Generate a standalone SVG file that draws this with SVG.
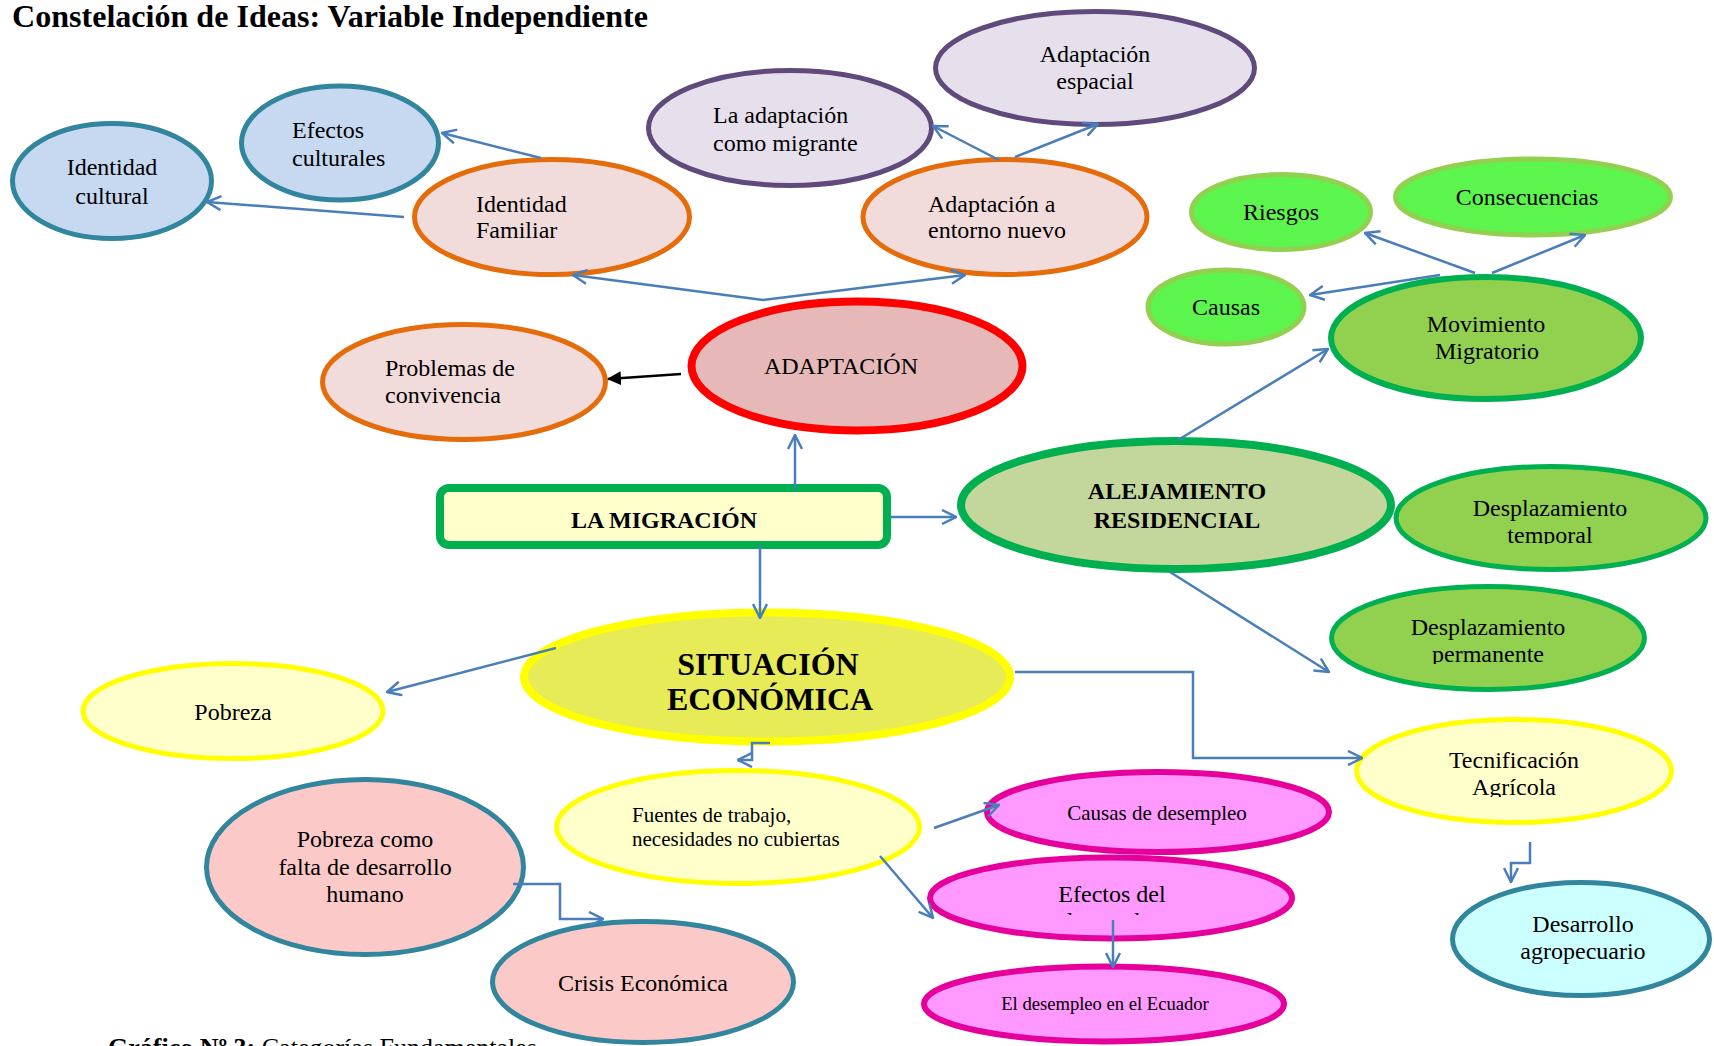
<svg xmlns="http://www.w3.org/2000/svg" width="1714" height="1046" viewBox="0 0 1714 1046">
<style>
text{font-family:"Liberation Serif","Times New Roman",serif;fill:#000}
.t{font-size:24px}
.c{text-anchor:middle}
.b{font-weight:bold}
.conn{fill:none;stroke:#4a7ebb;stroke-width:2.5}
.teal{fill:#c6d9f1;stroke:#31859c;stroke-width:5}
.orng{fill:#f2dcdb;stroke:#e46c0a;stroke-width:5}
.purp{fill:#e5e0ec;stroke:#604a7b;stroke-width:5}
.lgrn{fill:#5cf54e;stroke:#92d050;stroke-width:5}
.mgrn{fill:#92d050;stroke:#00b050;stroke-width:5}
.ylw{fill:#ffffcc;stroke:#ffff00;stroke-width:5}
.pink{fill:#fcc9c9;stroke:#31859c;stroke-width:5}
.mag{fill:#ff99ff;stroke:#e6009b;stroke-width:6}
</style>
<defs>
<marker id="oa" viewBox="0 0 16 16" refX="15" refY="8" markerWidth="16" markerHeight="16" markerUnits="userSpaceOnUse" orient="auto">
<path d="M1,1 L15,8 L1,15" fill="none" stroke="#4a7ebb" stroke-width="2.5"/>
</marker>
<marker id="ba" viewBox="0 0 14 14" refX="13" refY="7" markerWidth="14" markerHeight="14" markerUnits="userSpaceOnUse" orient="auto">
<path d="M0,0 L14,7 L0,14 Z" fill="#000"/>
</marker>
<clipPath id="clipSit"><rect x="500" y="600" width="540" height="111"/></clipPath>
<clipPath id="clipTemp"><rect x="1390" y="460" width="320" height="84"/></clipPath>
<clipPath id="clipPerm"><rect x="1330" y="580" width="320" height="84"/></clipPath>
<clipPath id="clipTec"><rect x="1350" y="715" width="330" height="82"/></clipPath>
<clipPath id="clipEfe"><rect x="920" y="850" width="380" height="65"/></clipPath>
</defs>

<text x="12" y="27" class="b" font-size="31" textLength="636" lengthAdjust="spacingAndGlyphs">Constelación de Ideas: Variable Independiente</text>

<g id="identidad-cultural">
<ellipse cx="112" cy="181" rx="99.5" ry="57.5" class="teal"/>
<text x="112" y="175" class="t c">Identidad</text>
<text x="112" y="204" class="t c">cultural</text>
</g>
<g id="efectos-culturales">
<ellipse cx="340" cy="143" rx="98.5" ry="57" class="teal"/>
<text x="292" y="138" class="t">Efectos</text>
<text x="292" y="166" class="t">culturales</text>
</g>
<g id="identidad-familiar">
<ellipse cx="552" cy="217" rx="137.5" ry="57.5" class="orng"/>
<text x="476" y="212" class="t">Identidad</text>
<text x="476" y="238" class="t">Familiar</text>
</g>
<g id="adaptacion-migrante">
<ellipse cx="790" cy="128" rx="141.5" ry="57.5" class="purp"/>
<text x="713" y="123" class="t">La adaptación</text>
<text x="713" y="151" class="t">como migrante</text>
</g>
<g id="adaptacion-espacial">
<ellipse cx="1095" cy="68" rx="159.5" ry="56.5" class="purp"/>
<text x="1095" y="62" class="t c">Adaptación</text>
<text x="1095" y="89" class="t c">espacial</text>
</g>
<g id="adaptacion-entorno">
<ellipse cx="1005" cy="217" rx="142" ry="57.5" class="orng"/>
<text x="928" y="212" class="t">Adaptación a</text>
<text x="928" y="238" class="t">entorno nuevo</text>
</g>
<g id="problemas-convivencia">
<ellipse cx="464" cy="382" rx="141.5" ry="57.5" class="orng"/>
<text x="385" y="376" class="t">Problemas de</text>
<text x="385" y="403" class="t">convivencia</text>
</g>
<g id="adaptacion">
<ellipse cx="857" cy="366" rx="165.5" ry="64.5" fill="#e6b9b8" stroke="#ff0000" stroke-width="8"/>
<text x="841" y="374" class="t c">ADAPTACIÓN</text>
</g>
<g id="riesgos">
<ellipse cx="1281" cy="212" rx="89.5" ry="37.5" class="lgrn"/>
<text x="1281" y="220" class="t c">Riesgos</text>
</g>
<g id="consecuencias">
<ellipse cx="1533" cy="197" rx="137.5" ry="38" class="lgrn"/>
<text x="1527" y="205" class="t c">Consecuencias</text>
</g>
<g id="causas">
<ellipse cx="1226" cy="307" rx="78" ry="37" class="lgrn"/>
<text x="1226" y="315" class="t c">Causas</text>
</g>
<g id="movimiento-migratorio">
<ellipse cx="1486" cy="338" rx="155" ry="61" fill="#92d050" stroke="#00b050" stroke-width="6"/>
<text x="1486" y="332" class="t c">Movimiento</text>
<text x="1487" y="359" class="t c">Migratorio</text>
</g>
<g id="la-migracion">
<rect x="440" y="488" width="447" height="57" rx="9" fill="#ffffcc" stroke="#00b050" stroke-width="8"/>
<text x="664" y="528" class="c b" font-size="24">LA MIGRACIÓN</text>
</g>
<g id="alejamiento-residencial">
<ellipse cx="1176" cy="505" rx="215" ry="64" fill="#c3d69b" stroke="#00b050" stroke-width="8"/>
<text x="1177" y="499" class="c b" font-size="24">ALEJAMIENTO</text>
<text x="1177" y="528" class="c b" font-size="24">RESIDENCIAL</text>
</g>
<g id="desplazamiento-temporal">
<ellipse cx="1551" cy="518" rx="155" ry="51.5" class="mgrn"/>
<g clip-path="url(#clipTemp)">
<text x="1550" y="516" class="t c">Desplazamiento</text>
<text x="1550" y="543" class="t c">temporal</text>
</g>
</g>
<g id="desplazamiento-permanente">
<ellipse cx="1488" cy="638" rx="156.5" ry="51.5" class="mgrn"/>
<g clip-path="url(#clipPerm)">
<text x="1488" y="635" class="t c">Desplazamiento</text>
<text x="1488" y="662" class="t c">permanente</text>
</g>
</g>
<g id="situacion-economica">
<ellipse cx="767" cy="677" rx="243" ry="64.5" fill="#e7eb57" stroke="#ffff00" stroke-width="8"/>
<g clip-path="url(#clipSit)">
<text x="768" y="675" class="c b" font-size="32">SITUACIÓN</text>
<text x="770" y="710" class="c b" font-size="32">ECONÓMICA</text>
</g>
</g>
<g id="pobreza">
<ellipse cx="233" cy="711" rx="150" ry="47.5" class="ylw"/>
<text x="233" y="720" class="t c">Pobreza</text>
</g>
<g id="tecnificacion-agricola">
<ellipse cx="1514" cy="771" rx="157.5" ry="51.5" class="ylw"/>
<g clip-path="url(#clipTec)">
<text x="1514" y="768" class="t c">Tecnificación</text>
<text x="1514" y="795" class="t c">Agrícola</text>
</g>
</g>
<g id="fuentes-trabajo">
<ellipse cx="738" cy="827" rx="181.5" ry="56.5" class="ylw"/>
<text x="632" y="822" font-size="21">Fuentes de trabajo,</text>
<text x="632" y="846" font-size="21">necesidades no cubiertas</text>
</g>
<g id="pobreza-desarrollo">
<ellipse cx="365" cy="867" rx="158.5" ry="87.5" class="pink"/>
<text x="365" y="847" class="t c">Pobreza como</text>
<text x="365" y="875" class="t c">falta de desarrollo</text>
<text x="365" y="902" class="t c">humano</text>
</g>
<g id="crisis-economica">
<ellipse cx="643" cy="982" rx="150.5" ry="60.5" class="pink"/>
<text x="643" y="991" class="t c">Crisis Económica</text>
</g>
<g id="causas-desempleo">
<ellipse cx="1158" cy="812" rx="171" ry="40" class="mag"/>
<text x="1157" y="820" class="c" font-size="21">Causas de desempleo</text>
</g>
<g id="efectos-desempleo">
<ellipse cx="1111" cy="898" rx="181" ry="40.5" class="mag"/>
<g clip-path="url(#clipEfe)">
<text x="1112" y="902" class="t c">Efectos del</text>
<text x="1112" y="929" class="t c">desempleo</text>
</g>
</g>
<g id="desempleo-ecuador">
<ellipse cx="1104" cy="1004" rx="180" ry="37.5" class="mag"/>
<text x="1105" y="1010" class="c" font-size="18.6">El desempleo en el Ecuador</text>
</g>
<g id="desarrollo-agropecuario">
<ellipse cx="1581" cy="939" rx="128.5" ry="56.5" fill="#ccffff" stroke="#31859c" stroke-width="5"/>
<text x="1583" y="932" class="t c">Desarrollo</text>
<text x="1583" y="959" class="t c">agropecuario</text>
</g>

<g id="connectors">
<path class="conn" d="M795,489 V435" marker-end="url(#oa)"/>
<path class="conn" d="M760,545 V618" marker-end="url(#oa)"/>
<path class="conn" d="M891,517 H956" marker-end="url(#oa)"/>
<path class="conn" d="M763,300 L573,275" marker-end="url(#oa)"/>
<path class="conn" d="M763,300 L965,275" marker-end="url(#oa)"/>
<path d="M681,374 L608,379" fill="none" stroke="#000" stroke-width="2.5" marker-end="url(#ba)"/>
<path class="conn" d="M541,158 L442,133" marker-end="url(#oa)"/>
<path class="conn" d="M404,217 L207,202" marker-end="url(#oa)"/>
<path class="conn" d="M999,160 L933,126" marker-end="url(#oa)"/>
<path class="conn" d="M1015,157 L1098,124" marker-end="url(#oa)"/>
<path class="conn" d="M1178,440 L1328,349" marker-end="url(#oa)"/>
<path class="conn" d="M1475,273 L1365,233" marker-end="url(#oa)"/>
<path class="conn" d="M1492,273 L1585,235" marker-end="url(#oa)"/>
<path class="conn" d="M1440,275 L1310,295" marker-end="url(#oa)"/>
<path class="conn" d="M1170,572 L1329,672" marker-end="url(#oa)"/>
<path class="conn" d="M1015,672 H1193 V758 H1362" marker-end="url(#oa)"/>
<path class="conn" d="M556,648 L387,692" marker-end="url(#oa)"/>
<path class="conn" d="M770,743 H752 V760 H738" marker-end="url(#oa)"/>
<path class="conn" d="M934,828 L999,805" marker-end="url(#oa)"/>
<path class="conn" d="M880,856 L933,918" marker-end="url(#oa)"/>
<path class="conn" d="M1113,920 V967" marker-end="url(#oa)"/>
<path class="conn" d="M1530,842 V863 H1511 V882" marker-end="url(#oa)"/>
<path class="conn" d="M513,884 H560 V919 H603" marker-end="url(#oa)"/>
</g>

<text x="108" y="1056" font-size="25" textLength="429" lengthAdjust="spacingAndGlyphs"><tspan class="b">Gráfico Nº 3:</tspan> Categorías Fundamentales</text>
</svg>
